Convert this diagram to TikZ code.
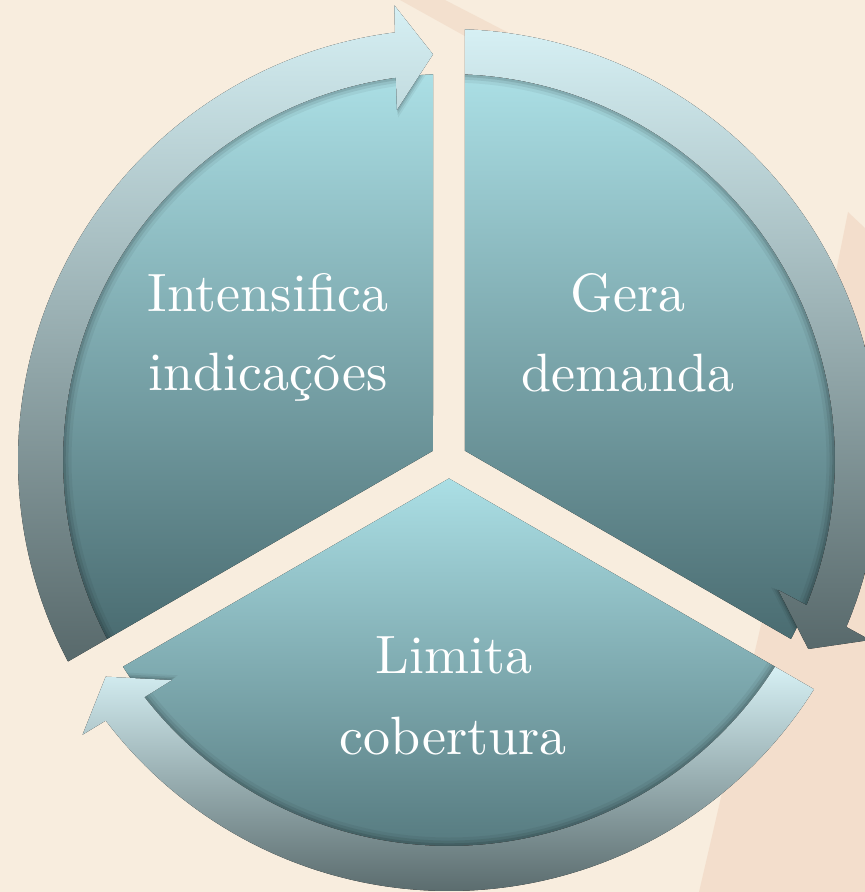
\documentclass[tikz,border=0pt]{standalone}
\usepackage{fontspec}
\newfontfamily\lblfont{lmroman10-regular.otf}
\definecolor{bgc}{HTML}{F8EDDE}
\definecolor{pinkc}{HTML}{F2DAC7}
\definecolor{stripec}{HTML}{F3E0CE}
\definecolor{pietop}{HTML}{ABDFE5}
\definecolor{piebot}{HTML}{4A6C71}
\definecolor{ringtop}{HTML}{D6F0F4}
\definecolor{ringbot}{HTML}{58696B}
\pgfmathsetmacro{\ai}{asin(16/386)}
\pgfmathsetmacro{\ao}{asin(16/431)}
\pgfmathsetmacro{\am}{asin(16/406)}
\tikzset{
  piece/.style={top color=pietop, bottom color=piebot},
  ringarrow/.style={top color=ringtop, bottom color=ringbot},
  lbl/.style={text=white, font=\lblfont\fontsize{54}{78}\selectfont, anchor=base, inner sep=0pt},
  % pie sector between gap rays #1 (start) and #2 (end), corner along bisector #3
  sector/.style n args={3}{insert path={(#3:18.475) -- ({#1+\ai}:386)
      arc[start angle={#1+\ai}, end angle={#2-\ai}, radius=386] -- cycle}},
  % ring arrow from gap ray #1 clockwise to gap ray #2
  arrowpath/.style 2 args={insert path={({#1-\ai}:386) -- ({#1-\ao}:431)
      arc[start angle={#1-\ao}, end angle={#2+\am+4.95}, radius=431]
      -- ({#2+\am+4.6}:458) -- ({#2+\am}:406) -- ({#2+\am+6.2}:354)
      -- ({#2+\am+5.65}:386)
      arc[start angle={#2+\am+5.65}, end angle={#1-\ai}, radius=386] -- cycle}},
}
\begin{document}
\begin{tikzpicture}[x=1pt,y=1pt]
\useasboundingbox (-449,-432) rectangle (416,460);
\clip (-449,-432) rectangle (416,460);
% background
\fill[bgc] (-449,-432) rectangle (416,460);
\fill[stripec] (-49,460) -- (-4,460) -- (151,380) -- (131,360) -- cycle;
\fill[pinkc, opacity=0.75] (399,248) -- (416,232) -- (416,-432) -- (250,-432) -- (341,-40) -- cycle;
% pie sectors
\fill[piece, sector={90}{210}{150}];
\fill[piece, sector={-30}{90}{30}];
\fill[piece, sector={210}{330}{270}];
% shadows of the ring on the pie
\begin{scope}
  \clip[sector={90}{210}{150}, sector={-30}{90}{30}, sector={210}{330}{270}];
  \foreach \s/\o in {0.993/0.10, 0.986/0.08, 0.978/0.05} {
    \fill[black, opacity=\o, scale=\s, arrowpath={210}{90}];
    \fill[black, opacity=\o, scale=\s, arrowpath={90}{-30}];
    \fill[black, opacity=\o, scale=\s, arrowpath={-30}{-150}];
  }
\end{scope}
% ring arrows
\fill[ringarrow, arrowpath={210}{90}];
\fill[ringarrow, arrowpath={90}{-30}];
\fill[ringarrow, arrowpath={-30}{-150}];
% labels
\node[lbl] (l1a) at (-181,148) {Intensifica};
\node[lbl] (l1b) at (-181,70) {indicações};
\node[lbl] (l2a) at (179,148) {Gera};
\node[lbl] (l2b) at (179,69) {demanda};
\node[lbl] (l3a) at (5,-213) {Limita};
\node[lbl] (l3b) at (4,-294) {cobertura};
\end{tikzpicture}
\end{document}
